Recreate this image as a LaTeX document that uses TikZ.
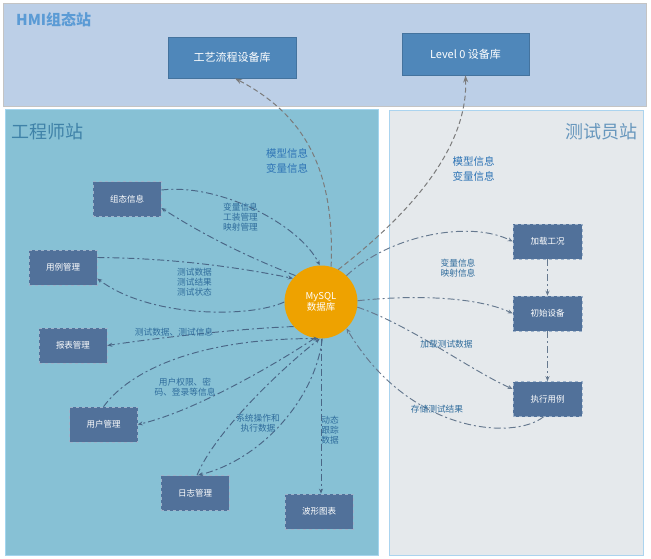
\documentclass[tikz,border=0pt]{standalone}
\usepackage{fontspec}
\setmainfont{Noto Sans CJK SC}
\usetikzlibrary{arrows.meta}
\definecolor{hmifill}{HTML}{BCCFE7}
\definecolor{hmiborder}{HTML}{C4C4C4}
\definecolor{engfill}{HTML}{87C1D5}
\definecolor{engborder}{HTML}{A3D5EE}
\definecolor{testfill}{HTML}{E5E9EC}
\definecolor{testborder}{HTML}{ABD4EF}
\definecolor{hboxfill}{HTML}{4F87BA}
\definecolor{hboxedge}{HTML}{44739E}
\definecolor{nfill}{HTML}{51719A}
\definecolor{nedge}{HTML}{9DB2CA}
\definecolor{dbcol}{HTML}{EEA200}
\definecolor{conncol}{HTML}{4A6686}
\definecolor{conncolr}{HTML}{66798F}
\definecolor{hconncol}{HTML}{7B7B7B}
\definecolor{lblcol}{HTML}{2F6C9C}
\definecolor{biglblcol}{HTML}{2E74B5}
\definecolor{hmititle}{HTML}{5B9BD5}
\definecolor{engtitle}{HTML}{3F82A8}
\definecolor{testtitle}{HTML}{6797BD}
\begin{document}
\begin{tikzpicture}[x=1pt,y=-1pt,
  hmibox/.style={draw=hboxedge, fill=hboxfill, line width=0.8pt, minimum width=128pt, minimum height=41pt, inner sep=0pt, text=white, font=\fontsize{11}{13}\selectfont},
  nbox/.style={draw=nedge, fill=nfill, dashed, line width=0.6pt, minimum width=68pt, minimum height=35pt, inner sep=0pt, text=white, font=\fontsize{8.5}{10}\selectfont},
  conn/.style={draw=conncol, line width=0.95pt, dash pattern=on 7pt off 3pt on 2pt off 3pt, -{Stealth[length=5pt,width=4pt]}},
  connr/.style={conn, draw=conncolr},
  hconn/.style={draw=hconncol, line width=1pt, dash pattern=on 5pt off 3pt, -{Stealth[length=7pt,width=5pt]}},
  lbl/.style={text=lblcol, font=\fontsize{8.7}{10}\selectfont, align=center, inner sep=0pt},
  biglbl/.style={text=biglblcol, font=\fontsize{10.5}{15}\selectfont, align=center, inner sep=0pt},
  ptitle/.style={font=\fontsize{18}{20}\selectfont, inner sep=0pt}
]
\useasboundingbox (0,0) rectangle (651,558);
\fill[white] (0,0) rectangle (651,558);
% panels
\draw[fill=hmifill, draw=hmiborder, line width=1pt] (3,3) rectangle (646,106);
\draw[fill=engfill, draw=engborder, line width=1pt] (5,109) rectangle (378,555);
\draw[fill=testfill, draw=testborder, line width=1pt] (389,110) rectangle (643,555);
% titles
\node[font=\fontsize{15}{17}\selectfont\bfseries, text=hmititle, inner sep=0pt, anchor=west] (thmi) at (16,20) {HMI组态站};
\node[ptitle, text=engtitle, anchor=west] (teng) at (11,132) {工程师站};
\node[ptitle, text=testtitle, anchor=east] (ttest) at (638,132) {测试员站};
% HMI boxes
\node[hmibox] (proc) at (232,57.5) {工艺流程设备库};
\node[hmibox, minimum width=127pt, minimum height=42pt] (lvl) at (465.5,54) {Level 0 设备库};
% database
\node[circle, fill=dbcol, minimum size=73pt, inner sep=0pt, text=white, font=\fontsize{9.5}{11}\selectfont, align=center] (db) at (321,302) {MySQL\\数据库};
% engineer nodes
\node[nbox] (cfg) at (127,199) {组态信息};
\node[nbox] (uc) at (63,267.5) {用例管理};
\node[nbox] (rpt) at (73,345.5) {报表管理};
\node[nbox] (usr) at (103.5,424.5) {用户管理};
\node[nbox] (log) at (195,493) {日志管理};
\node[nbox] (wav) at (319,511.5) {波形图表};
% tester nodes
\node[nbox, minimum width=69pt] (load) at (547.5,241.5) {加载工况};
\node[nbox, minimum width=69pt] (init) at (547.5,313.5) {初始设备};
\node[nbox, minimum width=69pt] (exec) at (547.5,399) {执行用例};
% HMI connectors
\draw[hconn] (db.74) .. controls (335,170) and (305,115) .. ([xshift=3pt]proc.south);
\draw[hconn] (db.62) .. controls (415,210) and (468,145) .. (lvl.south);
% engineer connectors
\draw[conn] ([yshift=9pt]cfg.east) .. controls (220,183) and (300,225) .. (db.92);
\draw[conn] (db.134) .. controls (250,258) and (205,236) .. ([yshift=-9pt]cfg.east);
\draw[conn] ([yshift=10pt]uc.east) .. controls (162,258) and (228,265) .. (db.140);
\draw[conn] (db.180) .. controls (250,318) and (150,318) .. ([yshift=-11pt]uc.east);
\draw[conn] (db.222) .. controls (250,328) and (170,336) .. (rpt.east);
\draw[conn] (usr.north) .. controls (130,370) and (200,338) .. (db.266);
\draw[conn] (db.260) .. controls (290,355) and (200,410) .. (usr.east);
\draw[conn] ([xshift=2pt]log.north) .. controls (215,432) and (280,370) .. (db.268);
\draw[conn] (db.272) .. controls (315,400) and (260,460) .. ([xshift=3pt]log.north);
\draw[conn] (db.south) -- (db.south |- wav.north);
% tester connectors
\draw[connr] (db.46) .. controls (390,235) and (470,220) .. (load.west);
\draw[connr] (db.2) .. controls (420,294) and (480,298) .. (init.west);
\draw[connr] (db.-8) .. controls (410,325) and (470,370) .. ([yshift=10pt]exec.west);
\draw[connr] ([xshift=-4pt]exec.south) .. controls (515,440) and (410,435) .. (db.-46);
\draw[connr] (load.south) -- (init.north);
\draw[connr] (init.south) -- (exec.north);
% labels
\node[biglbl] (l1) at (287,160.5) {模型信息\\变量信息};
\node[biglbl] (l2) at (473.5,168.5) {模型信息\\变量信息};
\node[lbl] (l3) at (240.5,217) {变量信息\\工装管理\\映射管理};
\node[lbl] (l4) at (194.5,282) {测试数据\\测试结果\\测试状态};
\node[lbl] (l5) at (174,332) {测试数据、测试信息};
\node[lbl, font=\fontsize{8.7}{10.5}\selectfont] (l6) at (185,387) {用户权限、密\\码、登录等信息};
\node[lbl] (l7) at (258,423) {系统操作和\\执行数据};
\node[lbl] (l8) at (330,430) {动态\\跟踪\\数据};
\node[lbl] (l9) at (458,268) {变量信息\\映射信息};
\node[lbl] (l10) at (446.5,344) {加载测试数据};
\node[lbl] (l11) at (437,409) {存储测试结果};
\end{tikzpicture}
\end{document}
